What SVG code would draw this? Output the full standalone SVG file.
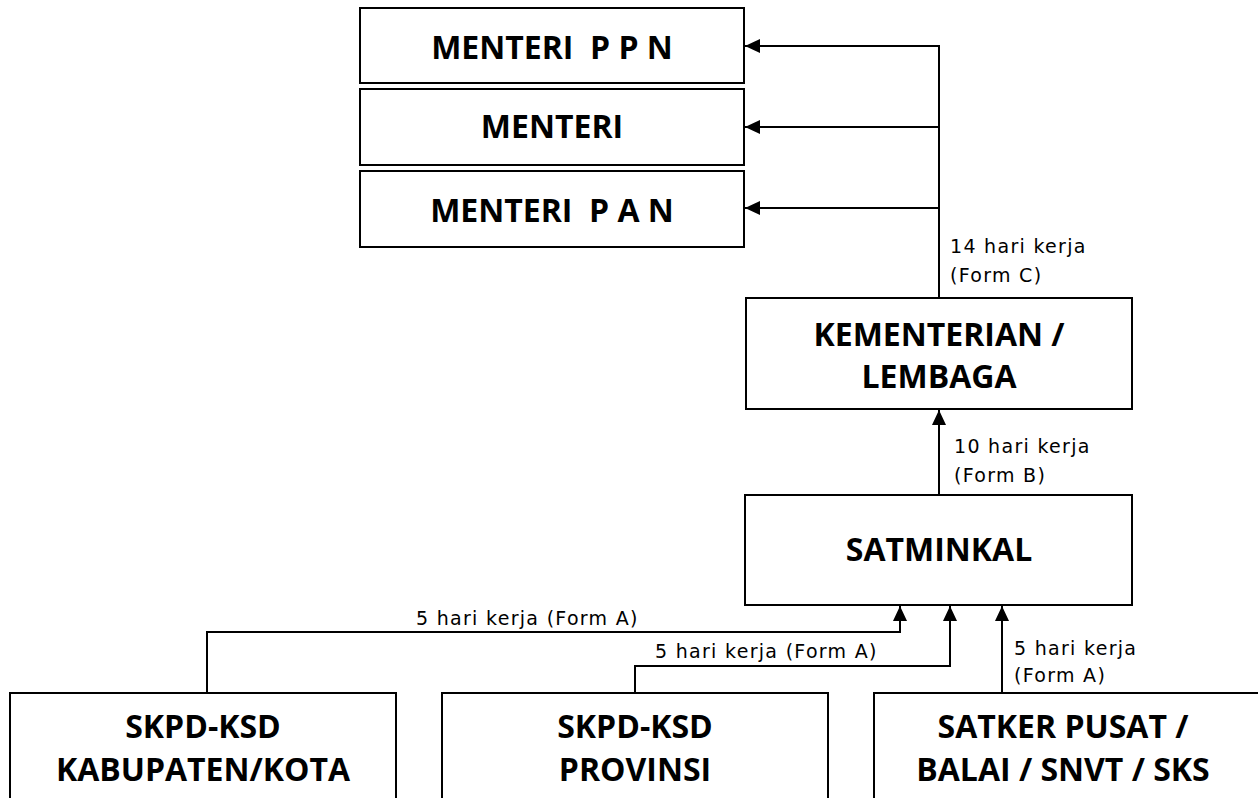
<svg xmlns="http://www.w3.org/2000/svg" width="1258" height="798" viewBox="0 0 1258 798">
<style>
.box{fill:#fff;stroke:#000;stroke-width:2}
.t{font-family:"Open Sans","Noto Sans",sans-serif;font-weight:700;font-size:32px;text-anchor:middle;fill:#000;white-space:pre}
.l{font-family:"DejaVu Sans",sans-serif;font-size:19px;letter-spacing:1.3px;fill:#000}
.c{fill:none;stroke:#000;stroke-width:2}
</style>
<defs>
<marker id="ah" markerUnits="userSpaceOnUse" markerWidth="16" markerHeight="16" viewBox="0 0 16 16" refX="15" refY="8" orient="auto">
<path d="M0,1 L15,8 L0,15 Z" fill="#000"/>
</marker>
</defs>
<g id="menteri-ppn"><rect class="box" x="360" y="8" width="384" height="75"/><text class="t" x="552" y="59">MENTERI  P P N</text></g>
<g id="menteri"><rect class="box" x="360" y="89" width="384" height="76"/><text class="t" x="552" y="138">MENTERI</text></g>
<g id="menteri-pan"><rect class="box" x="360" y="171" width="384" height="76"/><text class="t" x="552" y="222">MENTERI  P A N</text></g>
<g id="kementerian"><rect class="box" x="746" y="298" width="386" height="111"/><text class="t" x="939" y="346">KEMENTERIAN /</text><text class="t" x="939" y="388">LEMBAGA</text></g>
<g id="satminkal"><rect class="box" x="745" y="495" width="387" height="110"/><text class="t" x="939" y="561">SATMINKAL</text></g>
<g id="skpd-kab"><rect class="box" x="10" y="693" width="386" height="110"/><text class="t" x="203" y="738">SKPD-KSD</text><text class="t" x="203" y="781">KABUPATEN/KOTA</text></g>
<g id="skpd-prov"><rect class="box" x="442" y="693" width="386" height="110"/><text class="t" x="635" y="738">SKPD-KSD</text><text class="t" x="635" y="781">PROVINSI</text></g>
<g id="satker"><rect class="box" x="874" y="693" width="390" height="110"/><text class="t" x="1063" y="738">SATKER PUSAT /</text><text class="t" x="1063" y="781">BALAI / SNVT / SKS</text></g>
<g id="connectors">
<path class="c" d="M939,298 V46 H745" marker-end="url(#ah)"/>
<path class="c" d="M939,127 H745" marker-end="url(#ah)"/>
<path class="c" d="M939,208 H745" marker-end="url(#ah)"/>
<path class="c" d="M939,495 V410" marker-end="url(#ah)"/>
<path class="c" d="M207,693 V632 H900 V606" marker-end="url(#ah)"/>
<path class="c" d="M635,693 V666 H950 V606" marker-end="url(#ah)"/>
<path class="c" d="M1002,693 V606" marker-end="url(#ah)"/>
<text class="l" x="950" y="253">14 hari kerja</text>
<text class="l" x="950" y="282">(Form C)</text>
<text class="l" x="954" y="453">10 hari kerja</text>
<text class="l" x="954" y="482">(Form B)</text>
<text class="l" x="416" y="625">5 hari kerja (Form A)</text>
<text class="l" x="655" y="658">5 hari kerja (Form A)</text>
<text class="l" x="1014" y="655">5 hari kerja</text>
<text class="l" x="1014" y="682">(Form A)</text>
</g>
</svg>
